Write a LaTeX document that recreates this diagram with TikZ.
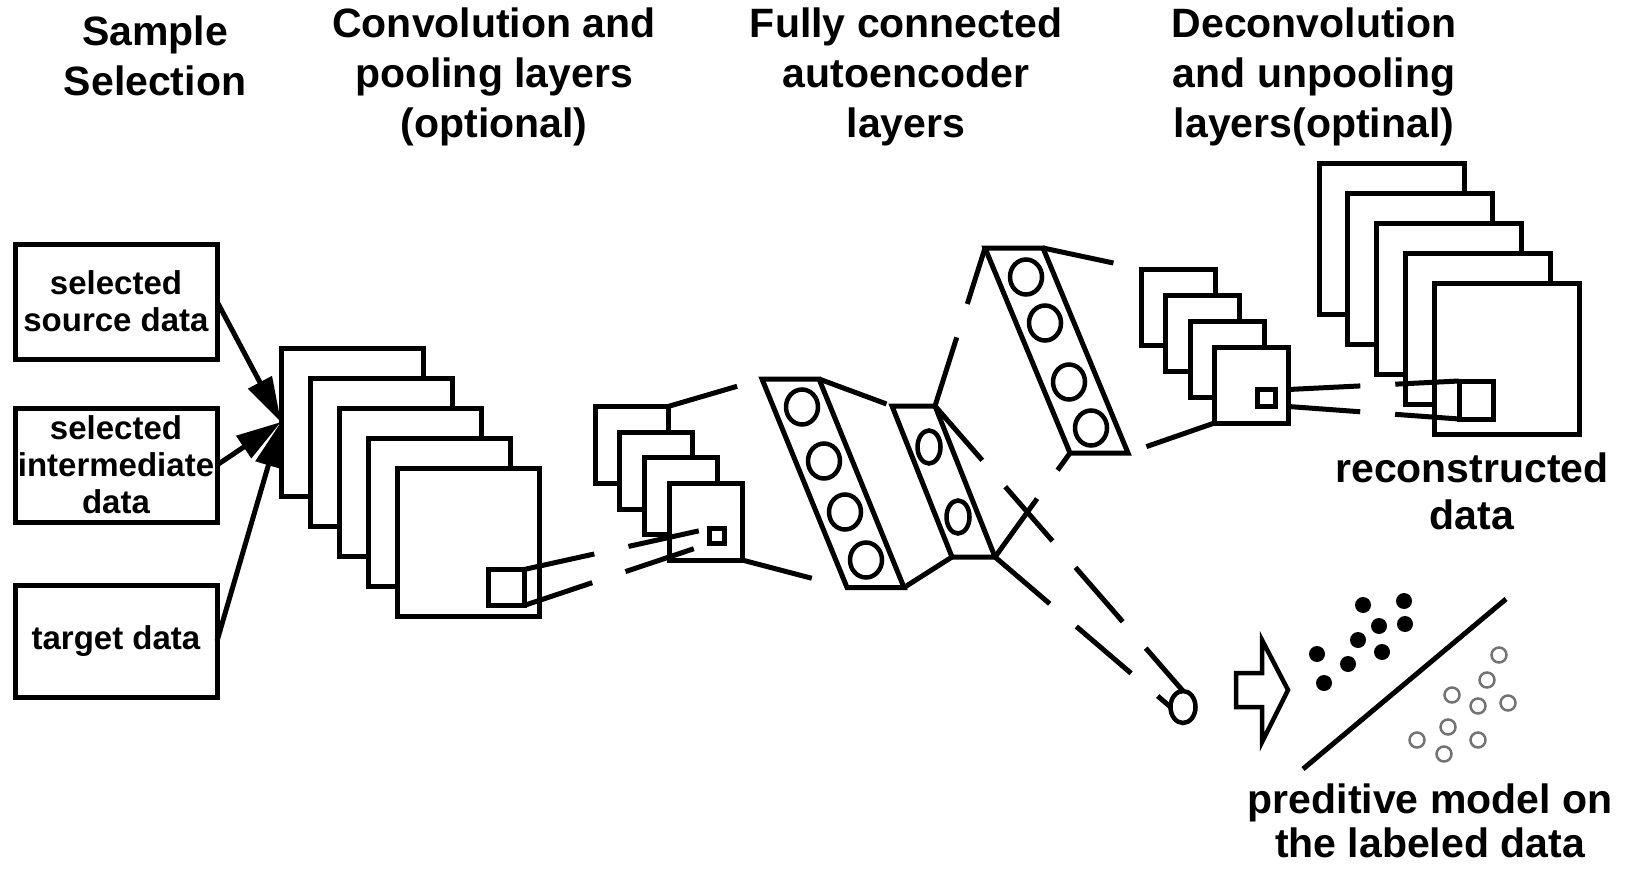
\documentclass[tikz,border=0pt]{standalone}
\usepackage{fontspec}
\setmainfont{Liberation Sans}
\usetikzlibrary{arrows.meta, shapes.geometric}

\begin{document}
\begin{tikzpicture}[x=1pt, y=-1pt, line width=5pt,
    headtext/.style={font=\bfseries\fontsize{41}{50}\selectfont, align=center, inner sep=0pt},
    datbox/.style={draw, minimum width=202pt, minimum height=114pt, inner sep=0pt, outer sep=0pt,
        align=center, font=\bfseries\fontsize{33}{37}\selectfont},
    fmap/.style={draw, fill=white, anchor=north west, inner sep=0pt, outer sep=0pt},
    patch/.style={draw, fill=white, inner sep=0pt, outer sep=0pt},
    neuron/.style={ellipse, draw, line width=4.5pt, inner sep=0pt, outer sep=0pt,
        minimum width=32pt, minimum height=35pt},
    link/.style={dash pattern=on 72pt off 35pt},
    feed/.style={-{Triangle[length=45pt, width=26pt]}},
    posdot/.style={circle, fill=black, inner sep=0pt, minimum size=16pt},
    negdot/.style={circle, draw=black!55, line width=2.5pt, inner sep=0pt, minimum size=15pt}]

    \useasboundingbox (0,0) rectangle (1629,869);

    % Tiêu đề các cột
    \node[headtext] (h-sample) at (155,56) {Sample\\Selection};
    \node[headtext] (h-conv) at (494,76.5) {Convolution and\\pooling layers\\(optional)};
    \node[headtext] (h-fc) at (906,76.5) {Fully connected\\autoencoder\\layers};
    \node[headtext] (h-deconv) at (1314,76.5) {Deconvolution\\and unpooling\\layers(optinal)};

    % Các khối dữ liệu đầu vào
    \node[datbox, minimum height=115pt] (src) at (116,301.5) {selected\\source data};
    \node[datbox] (mid) at (116,465) {selected\\intermediate\\data};
    \node[datbox, minimum height=112pt] (tgt) at (116,641) {target data};

    % Lớp tích chập và gộp (5 bản đồ đặc trưng rồi 4 bản đồ nhỏ)
    \foreach \i in {0,...,4}
        \node[fmap, minimum width=142pt, minimum height=148pt] (c1-\i) at ({281+29*\i}, {348+30*\i}) {};
    \node[patch, minimum size=36pt] (c1-p) at (506,587.5) {};
    \foreach \i in {0,...,3}
        \node[fmap, minimum width=73pt, minimum height=77pt] (c2-\i) at ({595+24.7*\i}, {406.5+25.5*\i}) {};
    \node[patch, minimum size=15pt] (c2-p) at (717,536) {};

    % Lớp tự mã hoá kết nối đầy đủ
    \coordinate (f1-tl) at (762,379);  \coordinate (f1-tr) at (819,379);
    \coordinate (f1-br) at (904,587.5); \coordinate (f1-bl) at (847,587.5);
    \draw (f1-tl) -- (f1-tr) -- (f1-br) -- (f1-bl) -- cycle;
    \foreach \x/\y [count=\k] in {802/407, 824/461, 845/512, 866/560}
        \node[neuron] (f1-\k) at (\x,\y) {};

    \coordinate (f2-tl) at (892,406);  \coordinate (f2-tr) at (935,406);
    \coordinate (f2-br) at (995,557);  \coordinate (f2-bl) at (952,557);
    \draw (f2-tl) -- (f2-tr) -- (f2-br) -- (f2-bl) -- cycle;
    \foreach \x/\y [count=\k] in {929/447, 958/517}
        \node[neuron, minimum width=23pt, minimum height=33pt] (f2-\k) at (\x,\y) {};

    \coordinate (f3-tl) at (985,248);  \coordinate (f3-tr) at (1043,248);
    \coordinate (f3-br) at (1128,453); \coordinate (f3-bl) at (1070,453);
    \draw (f3-tl) -- (f3-tr) -- (f3-br) -- (f3-bl) -- cycle;
    \foreach \x/\y [count=\k] in {1026/277, 1045/323, 1069/382, 1091/428}
        \node[neuron] (f3-\k) at (\x,\y) {};

    % Nút đầu ra cho mô hình dự đoán
    \node[neuron, minimum width=25pt, minimum height=32pt] (out) at (1183,707) {};

    % Lớp giải chập và bỏ gộp
    \foreach \i in {0,...,3}
        \node[fmap, minimum width=74pt, minimum height=76pt] (d1-\i) at ({1141.5+24.3*\i}, {269+26*\i}) {};
    \node[patch, minimum width=18pt, minimum height=17pt] (d1-p) at (1266,398) {};
    \foreach \i in {0,...,4}
        \node[fmap, minimum width=145pt, minimum height=151pt] (d2-\i) at ({1319+28.8*\i}, {163.5+30*\i}) {};
    \node[patch, minimum width=34pt, minimum height=38pt] (d2-p) at (1476,400) {};

    % Mũi tên đầu vào
    \draw[feed] (src.east) -- (c1-0.west);
    \draw[feed] (mid.east) -- (c1-0.west);
    \draw[feed] (tgt.east) -- (c1-0.west);

    % Các đường nối nét đứt giữa các lớp
    \draw[link] (c1-p.north east) -- (c2-p.north west);
    \draw[link] (c1-p.south east) -- (c2-p.south west);
    \draw[link] (c2-0.north east) -- (f1-tl);
    \draw[link] (c2-3.south east) -- (f1-bl);
    \draw[link] (f1-tr) -- (f2-tl);
    \draw[link] (f1-br) -- (f2-bl);
    \draw[link] (f2-tr) -- (f3-tl);
    \draw[link] (f2-br) -- (f3-bl);
    \draw[link] (f2-tr) -- (out.north);
    \draw[link] (f2-br) -- (out.west);
    \draw[link] (f3-tr) -- (d1-0.north west);
    \draw[link] (d1-3.south west) -- (f3-br);
    \coordinate (d1-up) at (d1-3.east |- d1-p.north east);
    \coordinate (d1-lo) at (d1-3.east |- d1-p.south east);
    \draw[link] (d1-up) -- (d2-p.north west);
    \draw[link] (d1-lo) -- (d2-p.south west);

    % Mũi tên rỗng sang mô hình dự đoán
    \draw[line width=4.5pt] (1236,673) -- (1262,673) -- (1262,640) -- (1288,690)
        -- (1262,742) -- (1262,707) -- (1236,707) -- cycle;

    % Đường phân lớp và các điểm dữ liệu
    \coordinate (sep-a) at (1303,769);
    \coordinate (sep-b) at (1506,599);
    \draw (sep-a) -- (sep-b);
    \foreach \x/\y [count=\k] in {1363/605, 1404/601, 1379/626, 1405/624, 1358/640,
                                  1382/652, 1317/654, 1348/664, 1324/683}
        \node[posdot] (pt-\k) at (\x,\y) {};
    \foreach \x/\y [count=\k] in {1499/655, 1487/680, 1452/695, 1478/706, 1508/703,
                                  1448/727, 1417/740, 1478/740, 1444/754}
        \node[negdot] (nt-\k) at (\x,\y) {};

    % Nhãn đầu ra
    \node[headtext, font=\bfseries\fontsize{41}{47}\selectfont] (l-rec) at (1472,491.5) {reconstructed\\data};
    \node[headtext, font=\bfseries\fontsize{41}{44}\selectfont] (l-pred) at (1430,821) {preditive model on\\the labeled data};
\end{tikzpicture}
\end{document}
